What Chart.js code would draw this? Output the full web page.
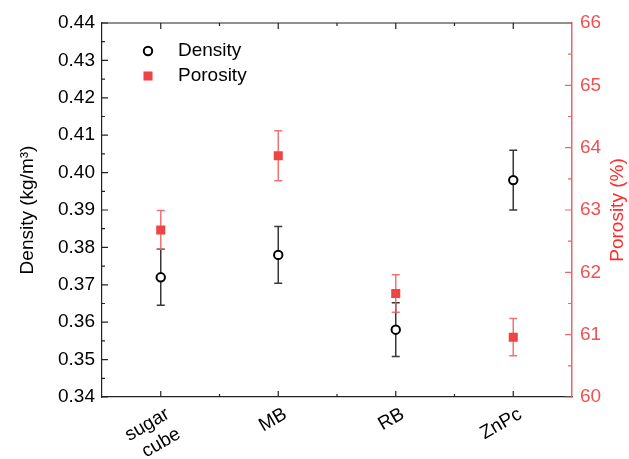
<!DOCTYPE html>
<html>
<head>
<meta charset="utf-8">
<script src="https://cdn.jsdelivr.net/npm/chart.js@4.4.1/dist/chart.umd.min.js"></script>
<style>
  html, body { margin: 0; padding: 0; background: #ffffff; }
  #wrap { width: 629px; height: 459px; }
</style>
</head>
<body>
<div id="wrap"><canvas id="c" width="629" height="459"></canvas></div>
<script>
// ---- data ----
const categories = [['sugar', 'cube'], 'MB', 'RB', 'ZnPc'];
const density = [0.372, 0.378, 0.358, 0.398];
const densityErr = [0.0075, 0.0076, 0.0072, 0.008];
const porosity = [62.68, 63.87, 61.66, 60.96];
const porosityErr = [0.31, 0.40, 0.30, 0.30];
const densityTicks = [0.34, 0.35, 0.36, 0.37, 0.38, 0.39, 0.40, 0.41, 0.42, 0.43, 0.44];
const porosityTicks = [60, 61, 62, 63, 64, 65, 66];
const yTitleLeft = 'Density (kg/m³)';
const yTitleRight = 'Porosity (%)';

const FONT = 'Liberation Sans, Arial, sans-serif';
const FS = 19;
const RED = '#ef4444';
const RED_TEXT = '#f05252';
const RED_AXIS = '#e8686a';

const errorBars = {
  id: 'errorBars',
  beforeDatasetsDraw(chart) {
    const ctx = chart.ctx;
    const sets = [
      { idx: 0, err: densityErr, vals: density, axis: 'y', color: 'rgba(20,20,20,0.85)' },
      { idx: 1, err: porosityErr, vals: porosity, axis: 'y1', color: 'rgba(240,90,90,0.85)' }
    ];
    ctx.save();
    sets.forEach(s => {
      const meta = chart.getDatasetMeta(s.idx);
      const ys = chart.scales[s.axis];
      ctx.strokeStyle = s.color;
      ctx.lineWidth = 1.5;
      meta.data.forEach((pt, i) => {
        const x = pt.x;
        const yt = ys.getPixelForValue(s.vals[i] + s.err[i]);
        const yb = ys.getPixelForValue(s.vals[i] - s.err[i]);
        ctx.beginPath();
        ctx.moveTo(x, yt); ctx.lineTo(x, yb);
        ctx.moveTo(x - 4, yt); ctx.lineTo(x + 4, yt);
        ctx.moveTo(x - 4, yb); ctx.lineTo(x + 4, yb);
        ctx.stroke();
      });
    });
    ctx.restore();
  }
};

const frameAndTicks = {
  id: 'frameAndTicks',
  afterDraw(chart) {
    const ctx = chart.ctx;
    const a = chart.chartArea;
    const x = chart.scales.x, y = chart.scales.y, y1 = chart.scales.y1;
    ctx.save();
    ctx.lineWidth = 1.2;
    // top frame
    ctx.strokeStyle = '#222';
    ctx.beginPath(); ctx.moveTo(a.left, a.top); ctx.lineTo(a.right, a.top); ctx.stroke();
    // x ticks (bottom & top), inward
    const n = categories.length;
    const band = (a.right - a.left) / n;
    ctx.beginPath();
    for (let i = 0; i < n; i++) {
      const px = x.getPixelForValue(i);
      ctx.moveTo(px, a.bottom); ctx.lineTo(px, a.bottom - 6);
      ctx.moveTo(px, a.top); ctx.lineTo(px, a.top + 6);
      if (i < n - 1) {
        const mx = px + band / 2;
        ctx.moveTo(mx, a.bottom); ctx.lineTo(mx, a.bottom - 3);
        ctx.moveTo(mx, a.top); ctx.lineTo(mx, a.top + 3);
      }
    }
    // left y ticks
    densityTicks.forEach((v, i) => {
      const py = y.getPixelForValue(v);
      ctx.moveTo(a.left, py); ctx.lineTo(a.left + 6, py);
      if (i < densityTicks.length - 1) {
        const my = y.getPixelForValue((v + densityTicks[i + 1]) / 2);
        ctx.moveTo(a.left, my); ctx.lineTo(a.left + 3, my);
      }
    });
    ctx.stroke();
    // right y ticks
    ctx.strokeStyle = RED_AXIS;
    ctx.beginPath();
    porosityTicks.forEach((v, i) => {
      const py = y1.getPixelForValue(v);
      ctx.moveTo(a.right, py); ctx.lineTo(a.right - 7, py);
      if (i < porosityTicks.length - 1) {
        const my = y1.getPixelForValue((v + porosityTicks[i + 1]) / 2);
        ctx.moveTo(a.right, my); ctx.lineTo(a.right - 4, my);
      }
    });
    ctx.stroke();

    // right axis title, reading bottom-to-top like the left one
    ctx.save();
    ctx.translate(618, (a.top + a.bottom) / 2);
    ctx.rotate(-Math.PI / 2);
    ctx.font = FS + 'px ' + FONT;
    ctx.fillStyle = '#ff2a2a';
    ctx.textAlign = 'center';
    ctx.textBaseline = 'middle';
    ctx.fillText(yTitleRight, 0, 0);
    ctx.restore();

    // legend (inside plot, top-left)
    const items = [
      { ds: 0, text: 'Density' },
      { ds: 1, text: 'Porosity' }
    ];
    ctx.font = FS + 'px ' + FONT;
    ctx.textBaseline = 'middle';
    ctx.textAlign = 'left';
    items.forEach((it, k) => {
      const d = chart.data.datasets[it.ds];
      const cx = a.left + 46, cy = a.top + 28 + k * 25;
      ctx.fillStyle = d.backgroundColor;
      ctx.strokeStyle = d.borderColor;
      ctx.lineWidth = d.borderWidth;
      Chart.helpers.drawPoint(ctx, { pointStyle: d.pointStyle, radius: d.pointRadius, rotation: 0, borderWidth: d.borderWidth }, cx, cy);
      ctx.fillStyle = '#000';
      ctx.fillText(it.text, a.left + 76, cy);
    });
    ctx.restore();
  }
};

new Chart(document.getElementById('c'), {
  type: 'scatter',
  data: {
    labels: categories,
    datasets: [
      {
        label: 'Density',
        data: density,
        yAxisID: 'y',
        pointStyle: 'circle',
        pointRadius: 4.2,
        borderWidth: 2,
        borderColor: '#000',
        backgroundColor: '#fff',
        showLine: false
      },
      {
        label: 'Porosity',
        data: porosity,
        yAxisID: 'y1',
        pointStyle: 'rect',
        pointRadius: 6.4,
        borderWidth: 0,
        borderColor: RED,
        backgroundColor: RED,
        showLine: false
      }
    ]
  },
  options: {
    responsive: false,
    animation: false,
    devicePixelRatio: 1,
    layout: { padding: { top: 23, left: 0, right: 0, bottom: 0 } },
    plugins: { legend: { display: false }, tooltip: { enabled: false } },
    scales: {
      x: {
        type: 'category',
        offset: true,
        grid: { display: true, drawOnChartArea: false, drawTicks: false },
        border: { color: '#222', width: 1.2 },
        ticks: {
          font: { family: FONT, size: FS },
          color: '#000',
          minRotation: 30, maxRotation: 30,
          padding: 6,
          labelOffset: 7,
          autoSkip: false
        },
        afterFit(s) { s.height = 62; }
      },
      y: {
        position: 'left',
        min: 0.34, max: 0.44,
        afterBuildTicks(s) { s.ticks = densityTicks.map(v => ({ value: v })); },
        grid: { drawOnChartArea: false, drawTicks: false },
        border: { color: '#222', width: 1.2 },
        ticks: {
          font: { family: FONT, size: FS },
          color: '#000',
          padding: 7,
          callback: v => Number(v).toFixed(2)
        },
        title: {
          display: true,
          text: yTitleLeft,
          font: { family: FONT, size: FS },
          color: '#000',
          padding: { top: 16, bottom: 0 }
        },
        afterFit(s) { s.width = 102; }
      },
      y1: {
        position: 'right',
        min: 60, max: 66,
        afterBuildTicks(s) { s.ticks = porosityTicks.map(v => ({ value: v })); },
        grid: { drawOnChartArea: false, drawTicks: false },
        border: { color: RED_AXIS, width: 1.5 },
        ticks: {
          font: { family: FONT, size: FS },
          color: RED_TEXT,
          padding: 8,
          callback: v => String(v)
        },
        title: { display: false },
        afterFit(s) { s.width = 57; }
      }
    }
  },
  plugins: [errorBars, frameAndTicks]
});
</script>
</body>
</html>
